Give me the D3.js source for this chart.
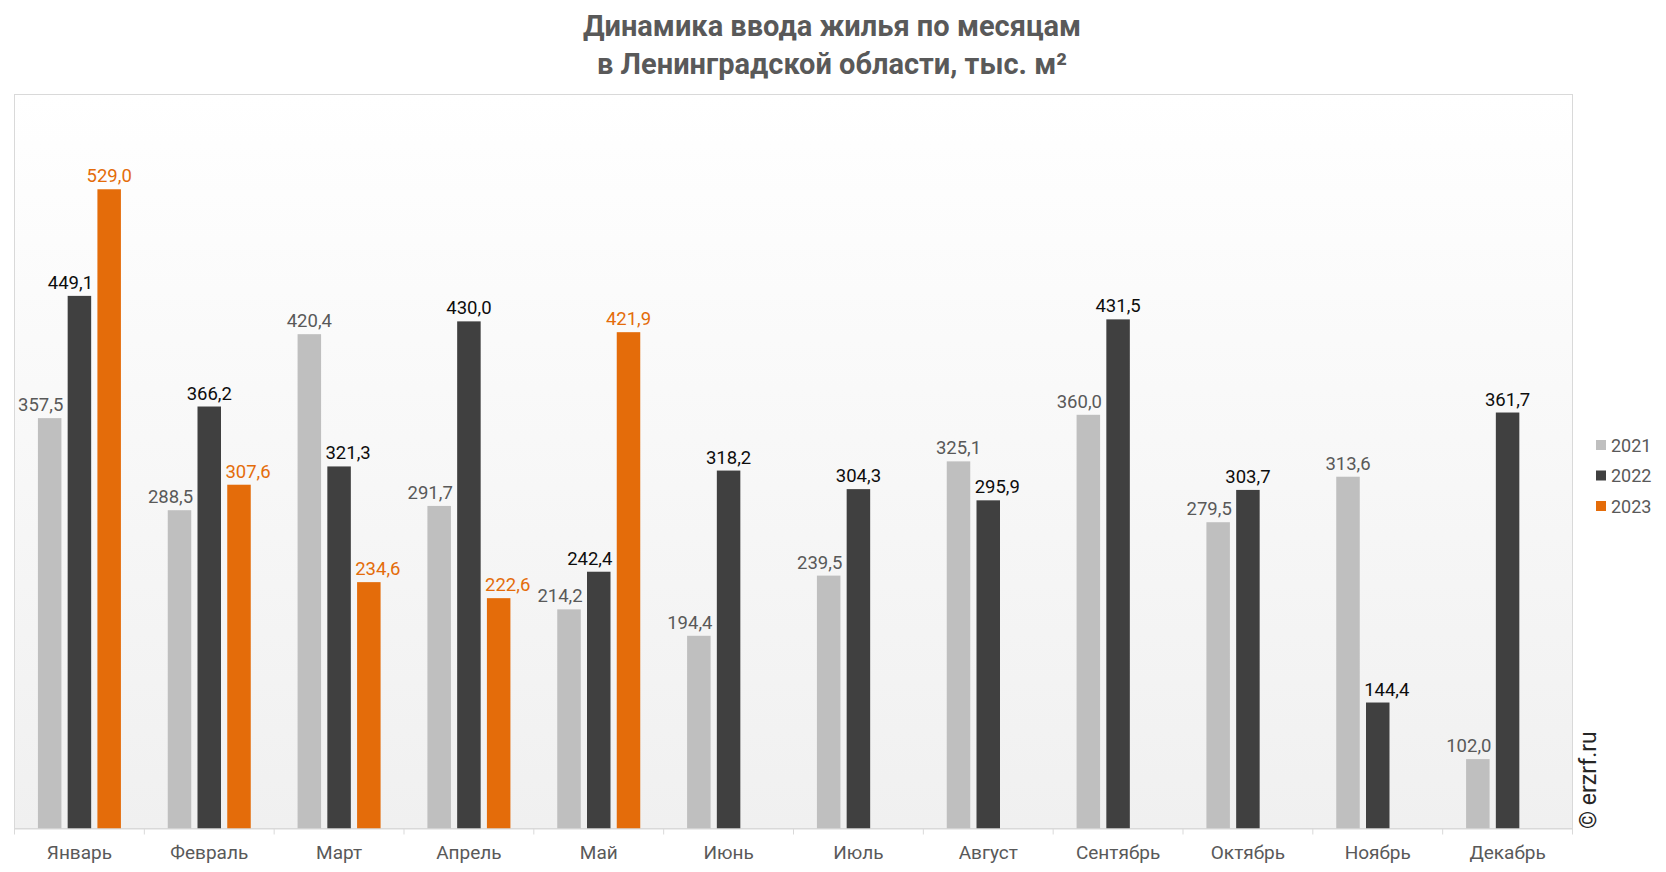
<!DOCTYPE html>
<html lang="ru">
<head>
<meta charset="utf-8">
<title>Динамика ввода жилья по месяцам</title>
<script src="https://d3js.org/d3.v7.min.js"></script>
<style>
  html, body { margin: 0; padding: 0; background: #fff; }
  svg { display: block; font-family: Roboto, "Noto Sans", sans-serif; }
</style>
</head>
<body>
<script>
// data
const months = ['Январь', 'Февраль', 'Март', 'Апрель', 'Май', 'Июнь',
                'Июль', 'Август', 'Сентябрь', 'Октябрь', 'Ноябрь', 'Декабрь'];
const years = ['2021', '2022', '2023'];
const v2021 = [357.5, 288.5, 420.4, 291.7, 214.2, 194.4, 239.5, 325.1, 360.0, 279.5, 313.6, 102.0];
const v2022 = [449.1, 366.2, 321.3, 430.0, 242.4, 318.2, 304.3, 295.9, 431.5, 303.7, 144.4, 361.7];
const v2023 = [529.0, 307.6, 234.6, 222.6, 421.9, null, null, null, null, null, null, null];
const yDomain = [50, 600];

const seriesValues = { '2021': v2021, '2022': v2022, '2023': v2023 };
const barColor = { '2021': '#bfbfbf', '2022': '#404040', '2023': '#e46c0a' };
const labelColor = { '2021': '#595959', '2022': '#0d0d0d', '2023': '#e46c0a' };

const width = 1666, height = 872;
const plot = { left: 14.5, right: 1572.5, top: 94.5, bottom: 828.5 };

const svg = d3.select('body').append('svg')
    .attr('width', width)
    .attr('height', height);

// gradient background of plot area
const defs = svg.append('defs');
const grad = defs.append('linearGradient')
    .attr('id', 'plotBg')
    .attr('x1', 0).attr('y1', 0).attr('x2', 0).attr('y2', 1);
grad.append('stop').attr('offset', '0%').attr('stop-color', '#ffffff');
grad.append('stop').attr('offset', '100%').attr('stop-color', '#f0f0f0');

svg.append('rect')
    .attr('x', plot.left).attr('y', plot.top)
    .attr('width', plot.right - plot.left)
    .attr('height', plot.bottom - plot.top)
    .attr('fill', 'url(#plotBg)')
    .attr('stroke', '#d9d9d9')
    .attr('stroke-width', 1);

// title
const title = svg.append('text')
    .attr('text-anchor', 'middle')
    .attr('fill', '#595959')
    .style('font-size', '29px')
    .style('font-weight', 'bold');
title.append('tspan').attr('x', 832).attr('y', 36).text('Динамика ввода жилья по месяцам');
title.append('tspan').attr('x', 832).attr('y', 74).text('в Ленинградской области, тыс. м²');

// scales
const x0 = d3.scaleBand()
    .domain(months)
    .range([plot.left, plot.right]);

const groupW = 89.25;
const x1 = d3.scaleBand()
    .domain(years)
    .range([0, groupW])
    .paddingInner(0.21)
    .paddingOuter(0.105);

const y = d3.scaleLinear()
    .domain(yDomain)
    .range([plot.bottom, plot.top]);

// flat list of cells; labels nudged away from a taller neighbouring bar
const cells = [];
months.forEach((m, i) => {
  years.forEach((yr, k) => {
    const v = seriesValues[yr][i];
    if (v == null) return;
    const left = k > 0 ? seriesValues[years[k - 1]][i] : null;
    const right = k < years.length - 1 ? seriesValues[years[k + 1]][i] : null;
    let shift = 0;
    if (right != null && right > v) shift = -9;
    else if (left != null && left > v) shift = 9;
    cells.push({ month: m, year: yr, value: v, shift: shift });
  });
});

const barX = d => x0(d.month) + x0.bandwidth() / 2 - groupW / 2 + x1(d.year);

// bars
svg.append('g').selectAll('rect')
    .data(cells)
    .join('rect')
    .attr('x', barX)
    .attr('y', d => y(d.value))
    .attr('width', x1.bandwidth())
    .attr('height', d => y(yDomain[0]) - y(d.value))
    .attr('fill', d => barColor[d.year]);

// value labels on top of all bars
svg.append('g').selectAll('text')
    .data(cells)
    .join('text')
    .attr('x', d => barX(d) + x1.bandwidth() / 2 + d.shift)
    .attr('y', d => y(d.value) - 7)
    .attr('text-anchor', 'middle')
    .attr('fill', d => labelColor[d.year])
    .style('font-size', '18.5px')
    .text(d => d3.format('.1f')(d.value).replace('.', ','));

// x axis
const xAxis = svg.append('g')
    .attr('transform', `translate(0,${plot.bottom})`)
    .call(d3.axisBottom(x0).tickSize(0).tickPadding(17));
xAxis.select('.domain').attr('stroke', '#d9d9d9');
xAxis.selectAll('text')
    .attr('fill', '#595959')
    .style('font-size', '19px')
    .style('font-family', 'Roboto, sans-serif');

// separator ticks between months
svg.append('g').selectAll('line')
    .data(months.concat(['end']))
    .join('line')
    .attr('x1', (d, i) => plot.left + i * x0.step())
    .attr('x2', (d, i) => plot.left + i * x0.step())
    .attr('y1', plot.bottom)
    .attr('y2', plot.bottom + 6)
    .attr('stroke', '#d9d9d9');

// legend
const legend = svg.append('g').selectAll('g')
    .data(years)
    .join('g')
    .attr('transform', (d, i) => `translate(1596,${445 + i * 30.5})`);
legend.append('rect')
    .attr('x', 0).attr('y', -5)
    .attr('width', 10).attr('height', 10)
    .attr('fill', d => barColor[d]);
legend.append('text')
    .attr('x', 15).attr('y', 6.5)
    .attr('fill', '#595959')
    .style('font-size', '18px')
    .text(d => d);

// watermark
svg.append('text')
    .attr('transform', 'translate(1596,829) rotate(-90)')
    .attr('fill', '#262626')
    .style('font-size', '23px')
    .text('© erzrf.ru');
</script>
</body>
</html>
